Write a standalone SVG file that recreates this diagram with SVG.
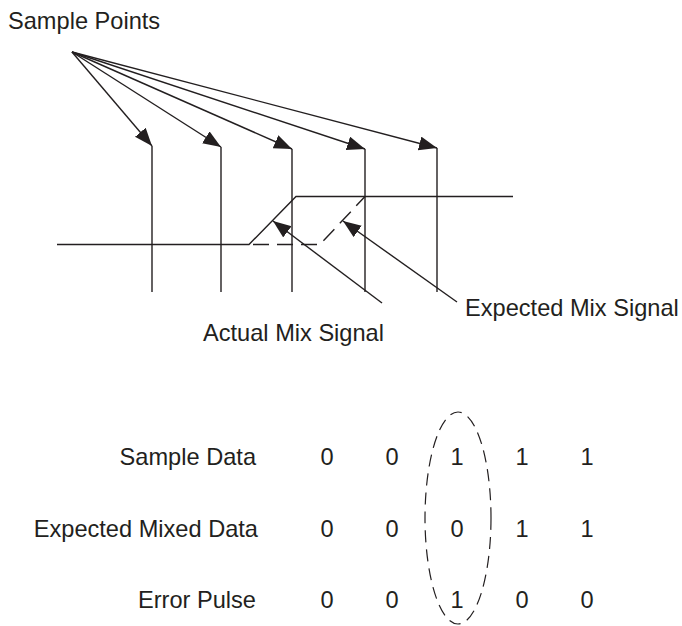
<svg xmlns="http://www.w3.org/2000/svg" width="682" height="626" viewBox="0 0 682 626">
<defs>
<style>
text{font-family:"Liberation Sans",Arial,sans-serif;font-size:23.6px;fill:#231f20}
.ln{stroke:#231f20;stroke-width:1.4;fill:none}
.ds{stroke:#231f20;stroke-width:1.4;fill:none;stroke-dasharray:16 8}
.el{stroke:#231f20;stroke-width:1.2;fill:none;stroke-dasharray:12 7}
.num{text-anchor:middle}
.lbl{text-anchor:end}
</style>
<marker id="ah" markerUnits="userSpaceOnUse" markerWidth="20" markerHeight="16" refX="18" refY="7" orient="auto">
<path d="M0,0 L18,7 L0,14 z" fill="#231f20"/>
</marker>
</defs>
<rect width="682" height="626" fill="#fff"/>
<g id="title"><text x="8" y="29">Sample Points</text></g>
<g id="sample-lines">
<line class="ln" x1="152" y1="146" x2="152" y2="292"/>
<line class="ln" x1="221" y1="147" x2="221" y2="292"/>
<line class="ln" x1="292" y1="149" x2="292" y2="292"/>
<line class="ln" x1="365" y1="149" x2="365" y2="292"/>
<line class="ln" x1="437" y1="148" x2="437" y2="292"/>
</g>
<g id="signal">
<polyline class="ln" points="57,244.5 249,244.5 296,196.5 513,196.5"/>
<polyline class="ds" points="253,244.5 320,244.5 365,196.5"/>
</g>
<g id="connectors">
<line class="ln" x1="72" y1="52" x2="152" y2="146" marker-end="url(#ah)"/>
<line class="ln" x1="72" y1="52" x2="221" y2="147" marker-end="url(#ah)"/>
<line class="ln" x1="72" y1="52" x2="292" y2="149" marker-end="url(#ah)"/>
<line class="ln" x1="72" y1="52" x2="365" y2="149" marker-end="url(#ah)"/>
<line class="ln" x1="72" y1="52" x2="437" y2="148" marker-end="url(#ah)"/>
<line class="ln" x1="382" y1="303" x2="273" y2="221" marker-end="url(#ah)"/>
<line class="ln" x1="457" y1="302" x2="343" y2="221" marker-end="url(#ah)"/>
</g>
<g id="label-expected"><text x="465" y="316">Expected Mix Signal</text></g>
<g id="label-actual"><text x="203" y="341">Actual Mix Signal</text></g>
<g id="table">
<text class="lbl" x="256" y="465">Sample Data</text>
<text class="lbl" x="258" y="537">Expected Mixed Data</text>
<text class="lbl" x="256" y="608">Error Pulse</text>
<text class="num" x="327" y="465">0</text><text class="num" x="392" y="465">0</text><text class="num" x="457" y="465">1</text><text class="num" x="522" y="465">1</text><text class="num" x="587" y="465">1</text>
<text class="num" x="327" y="537">0</text><text class="num" x="392" y="537">0</text><text class="num" x="457" y="537">0</text><text class="num" x="522" y="537">1</text><text class="num" x="587" y="537">1</text>
<text class="num" x="327" y="608">0</text><text class="num" x="392" y="608">0</text><text class="num" x="457" y="608">1</text><text class="num" x="522" y="608">0</text><text class="num" x="587" y="608">0</text>
</g>
<g id="highlight"><ellipse class="el" cx="458" cy="518" rx="33" ry="106"/></g>
</svg>
